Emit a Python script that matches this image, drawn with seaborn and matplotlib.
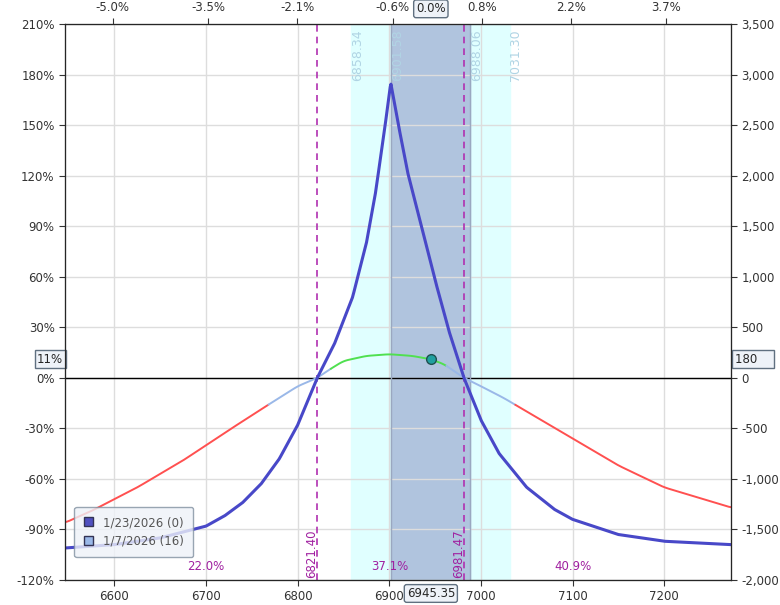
import numpy as np
import pandas as pd
import matplotlib
matplotlib.use("Agg")
import matplotlib.pyplot as plt
import seaborn as sns
from matplotlib.patches import Patch

# Values
spot = 6945.35
exp_x = [6546, 6600, 6650, 6700, 6720, 6740, 6760, 6780, 6800, 6821.4, 6840, 6860, 6875,
         6885, 6895, 6901.58, 6910, 6920, 6935, 6950, 6965, 6981.47, 7000, 7020, 7050,
         7080, 7100, 7150, 7200, 7273]
exp_pct = [-101, -99, -95, -88, -82, -74, -63, -48, -28, 0, 20, 48, 80,
           110, 148, 175, 150, 122, 90, 58, 28, 0, -25, -45, -65,
           -78, -84, -93, -97, -99]
t0_x = [6546, 6575, 6600, 6625, 6650, 6675, 6700, 6725, 6765, 6800, 6821.4, 6835, 6850,
        6875, 6900, 6925, 6945.35, 6960, 6981.47, 7000, 7025, 7050, 7100, 7150, 7200, 7273]
t0_pct = [-86, -79, -72, -65, -57, -49, -40, -31, -17, -5, 0, 5, 10,
          13, 14, 13, 11, 8, 0, -5, -12, -20, -36, -52, -65, -77]
breakevens = [6821.40, 6981.47]
inner_band = [6901.58, 6988.06]
outer_band = [6858.34, 7031.30]
prob_x = [6700, 6900, 7100]
prob_txt = ["22.0%", "37.1%", "40.9%"]
legend_labels = ["1/23/2026 (0)", "1/7/2026 (16)"]

sns.set_style("white")
plt.rcParams['font.family'] = ['DejaVu Sans']
fig = plt.figure(figsize=(7.8, 6.05), dpi=100)
ax = fig.add_axes([65/780, 25/605, 666/780, 556/605])
ax.set_xlim(6546, 7273)
ax.set_ylim(-120, 210)

ax.axvspan(*outer_band, color="#e0ffff", zorder=0)
ax.axvspan(*inner_band, color="#b0c4de", zorder=0)
ax.set_xticks(range(6600, 7201, 100))
ax.set_yticks(range(-120, 211, 30))
ax.set_yticklabels([f"{v}%" for v in range(-120, 211, 30)])
ax.grid(True, color="#dddddd", lw=1)
ax.set_axisbelow(True)
ax.axhline(0, color="black", lw=1)
for b in breakevens:
    ax.axvline(b, color="#b030b0", ls=(0, (4, 3)), lw=1.2)
for b in inner_band:
    ax.axvline(b, color="#9aa8c0", lw=1)

# T+0 curve, coloured by region
xs = np.linspace(6546, 7273, 600)
ys = np.convolve(np.pad(np.interp(xs, t0_x, t0_pct), 4, mode="edge"), np.ones(9) / 9, "valid")
seg = np.where(ys < -16, "r", np.where((xs > 6835) & (xs < 6962), "g", "b"))
cols = {"r": "#ff5050", "g": "#50e050", "b": "#9ab8e8"}
start = 0
for i in range(1, len(xs) + 1):
    if i == len(xs) or seg[i] != seg[start]:
        sl = slice(start, min(i + 1, len(xs)))
        sns.lineplot(x=xs[sl], y=ys[sl], color=cols[seg[start]], lw=1.4, ax=ax)
        start = i

ex = np.linspace(6546, 7273, 900)
ey = np.interp(ex, exp_x, exp_pct)
sns.lineplot(x=ex, y=ey, color="#4848c8", lw=2.2, ax=ax)
ax.plot(spot, 11, "o", ms=7, mfc="#20a0a0", mec="#205050", zorder=5)

for x, lab in zip(breakevens, ["6821.40", "6981.47"]):
    ax.text(x - 6, -119, lab, rotation=90, color="#a020a0", fontsize=8.5, ha="center", va="bottom")
for x, lab in zip(outer_band[:1] + inner_band + outer_band[1:],
                  ["6858.34", "6901.58", "6988.06", "7031.30"]):
    ax.text(x + 7, 207, lab, rotation=90, color="#b0d4e4", fontsize=9, ha="center", va="top")
for x, t in zip(prob_x, prob_txt):
    ax.text(x, -112, t, color="#a020a0", fontsize=8.5, ha="center", va="center")

ax.tick_params(labelsize=8.5, colors="#333333", length=4)
ax.tick_params(axis="both", which="both", direction="out", left=True, bottom=True)

ax2 = ax.twinx()
ax2.set_ylim(-2000, 3500)
ax2.set_yticks(range(-2000, 3501, 500))
ax2.set_yticklabels([f"{v:,}" for v in range(-2000, 3501, 500)])
ax2.tick_params(labelsize=8.5, colors="#333333", right=True, length=4)

ax3 = ax.twiny()
ax3.set_xlim(ax.get_xlim())
pcts = [-5.0, -3.5, -2.1, -0.6, 0.8, 2.2, 3.7]
ax3.set_xticks([spot * (1 + p / 100) for p in pcts])
ax3.set_xticklabels([f"{p:.1f}%" for p in pcts])
ax3.tick_params(labelsize=8.5, colors="#333333", top=True, length=4)

box = dict(boxstyle="round,pad=0.2", fc="#eef2f8", ec="#607080")
ax.text(spot, -128, "6945.35", ha="center", va="center", fontsize=8.5, bbox=box, clip_on=False)
ax.text(spot, 219, "0.0%", ha="center", va="center", fontsize=8.5, bbox=box, clip_on=False)
sq = dict(boxstyle="square,pad=0.2", fc="#eef2f8", ec="#607080")
ax.text(6546 - 2, 11, "11%", ha="right", va="center", fontsize=8.5, bbox=sq, clip_on=False)
ax.text(7273 + 4, 11, "180    ", ha="left", va="center", fontsize=8.5, bbox=sq, clip_on=False)

h = [Patch(fc="#5050c0", ec="#333355"), Patch(fc="#9ab8e8", ec="#333355")]
ax.legend(h, legend_labels, loc="lower left", bbox_to_anchor=(0.005, 0.03), fontsize=8.5,
          frameon=True, facecolor="#eef2f8", edgecolor="#8090a0", handlelength=0.8,
          handleheight=0.8, labelcolor="#555555", fancybox=True, borderpad=0.8)

fig.savefig("out.png", dpi=100)
